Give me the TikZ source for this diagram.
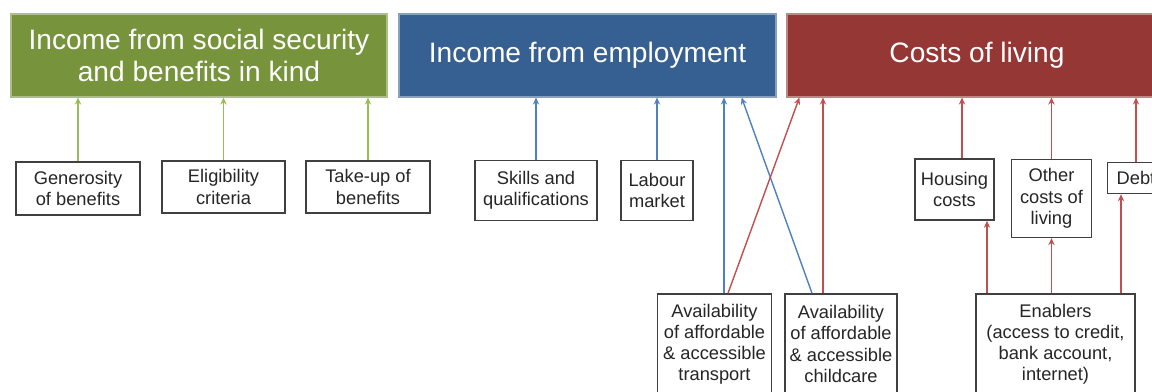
\documentclass[tikz,border=0pt]{standalone}
\usepackage{fontspec}
\setmainfont{Liberation Sans}
\usepackage{xcolor}
\usetikzlibrary{
    positioning,
    calc,
    arrows.meta
}
\definecolor{socgreen}{HTML}{77933C}
\definecolor{empblue}{HTML}{376092}
\definecolor{costred}{HTML}{953735}
\definecolor{arrgreen}{HTML}{9BBB59}
\definecolor{arrblue}{HTML}{4F81BD}
\definecolor{arrred}{HTML}{C0504D}

\begin{document}
\begin{tikzpicture}[x=0.025cm,y=-0.025cm]
      % Frame of the picture (right and bottom boxes run off the edge)
      \clip (0,0) rectangle (1152,392);

      % Styles for the headings, the factor boxes and the arrows
      \tikzset{
            heading/.style={rectangle, draw=#1!60!white, fill=#1, line width=0.8pt,
                        text=white, align=center, minimum height=2.075cm,
                        font=\fontsize{20}{23}\selectfont},
            factor/.style={rectangle, draw=black!75, fill=white, line width=1.1pt,
                        align=center, inner sep=1pt, text=black!85,
                        font=\fontsize{13}{15}\selectfont},
            feed/.style={-{Stealth[length=5pt,width=4.5pt]}, line width=1pt, #1}
      };

      % Headings along the top
      \node[heading=socgreen, minimum width=9.4cm] (soc) at (199,55.5)
            {Income from social security\\and benefits in kind};
      \node[heading=empblue, minimum width=9.425cm] (emp) at (587.5,55.5)
            {Income from employment};
      \node[heading=costred, minimum width=9.5cm] (cost) at (977,55.5)
            {Costs of living};

      % Factors under social security
      \node[factor, minimum width=3.1cm, minimum height=1.325cm] (gen) at (78,188.5)
            {Generosity\\of benefits};
      \node[factor, minimum width=3.075cm, minimum height=1.3cm] (elig) at (223.5,187)
            {Eligibility\\criteria};
      \node[factor, minimum width=3.1cm, minimum height=1.3cm] (take) at (368,187)
            {Take-up of\\benefits};

      % Factors under employment
      \node[factor, minimum width=3.05cm, minimum height=1.5cm] (skills) at (536,190.5)
            {Skills and\\qualifications};
      \node[factor, minimum width=1.8cm, minimum height=1.5cm] (labour) at (657,190.5)
            {Labour\\market};

      % Factors under costs of living
      \node[factor, minimum width=1.975cm, minimum height=1.525cm] (hous) at (954.5,189.5)
            {Housing\\costs};
      \node[factor, minimum width=2cm, minimum height=1.95cm] (other) at (1051.5,198.3)
            {Other\\costs of\\living};
      \node[factor, minimum width=1.425cm, minimum height=0.775cm] (debt) at (1136,178)
            {Debt};

      % Bottom row
      \node[factor, minimum width=2.85cm, minimum height=2.5cm] (trans) at (714.5,344)
            {Availability\\of affordable\\\& accessible\\transport};
      \node[factor, minimum width=2.8cm, minimum height=2.5cm] (child) at (841,344)
            {Availability\\of affordable\\\& accessible\\childcare};
      \node[factor, minimum width=3.975cm, minimum height=2.5cm] (enab) at (1055.5,344)
            {Enablers\\(access to credit,\\bank account,\\internet)};

      % Arrows up to social security
      \draw[feed=arrgreen] (gen.north) -- (gen.north |- soc.south);
      \draw[feed=arrgreen] (elig.north) -- (elig.north |- soc.south);
      \draw[feed=arrgreen] (take.north) -- (take.north |- soc.south);

      % Arrows up to employment
      \draw[feed=arrblue] (skills.north) -- (skills.north |- emp.south);
      \draw[feed=arrblue] (labour.north) -- (labour.north |- emp.south);

      % Transport and childcare feed both employment and costs
      \coordinate (t1) at ($(trans.north)+(9.5,0)$);
      \coordinate (t2) at ($(trans.north)+(13.5,0)$);
      \coordinate (c1) at ($(child.north)+(-29,0)$);
      \coordinate (c2) at ($(child.north)+(-18,0)$);
      \coordinate (e1) at ($(emp.south east)+(-35,0)$);
      \coordinate (k1) at ($(cost.south west)+(13,0)$);
      \draw[feed=arrblue] (t1) -- (t1 |- emp.south);
      \draw[feed=arrblue] (c1) -- (e1);
      \draw[feed=arrred] (t2) -- (k1);
      \draw[feed=arrred] (c2) -- (c2 |- cost.south);

      % Arrows up to costs of living
      \coordinate (h2) at ($(hous.north)+(7.5,0)$);
      \draw[feed=arrred] (h2) -- (h2 |- cost.south);
      \draw[feed=arrred] (other.north) -- (other.north |- cost.south);
      \draw[feed=arrred] (debt.north) -- (debt.north |- cost.south);

      % Enablers feed the three cost boxes
      \coordinate (h1) at ($(hous.south)+(32.5,0)$);
      \coordinate (d1) at ($(debt.south)+(-15,0)$);
      \draw[feed=arrred] (enab.north -| h1) -- (h1);
      \draw[feed=arrred] (enab.north -| other.south) -- (other.south);
      \draw[feed=arrred] (enab.north -| d1) -- (d1);
\end{tikzpicture}
\end{document}
